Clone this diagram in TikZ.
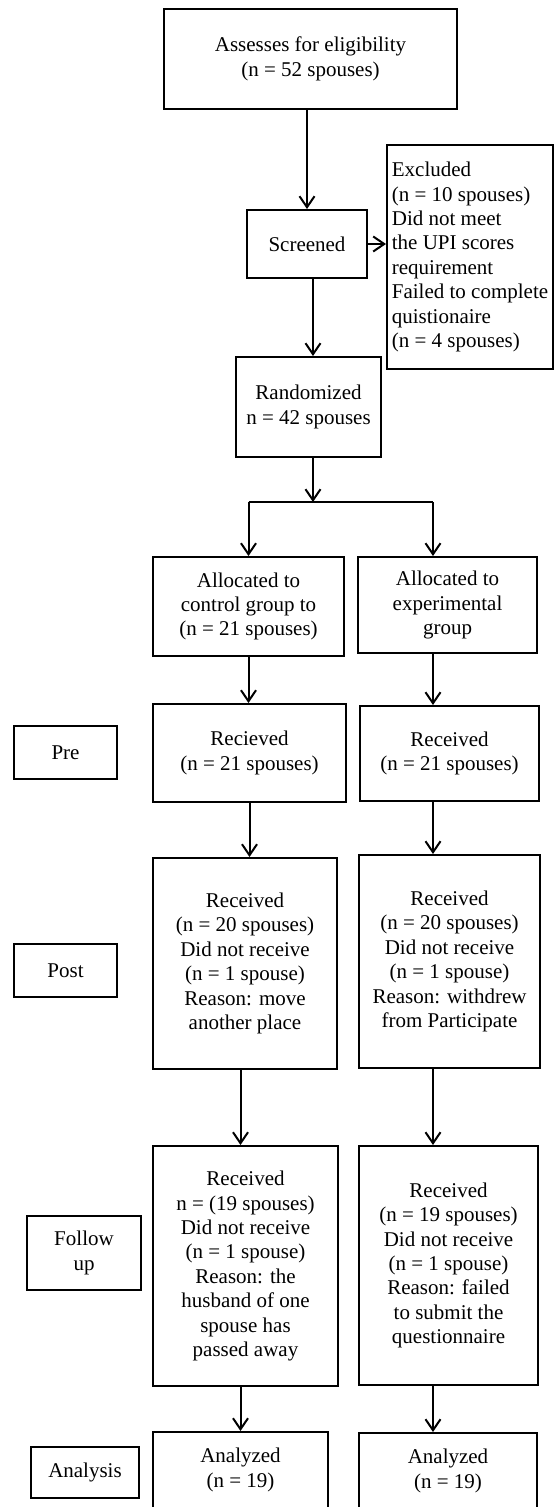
\documentclass[tikz,border=0pt]{standalone}
\usepackage{fontspec}
\setmainfont{Liberation Serif}
\usetikzlibrary{arrows.meta}

\begin{document}
\begin{tikzpicture}[x=1pt,y=-1pt,
		box/.style={draw, line width=2pt, inner sep=0pt, align=center,
			font=\fontsize{21}{24.4}\selectfont},
		arr/.style={line width=2pt,
			-{Straight Barb[length=11pt,width=15pt,line width=2pt]}}]
	\useasboundingbox (0,0) rectangle (554,1507);

	% main column
	\node[box, minimum width=293pt, minimum height=100pt] (assess) at (310.5,59) {Assesses for eligibility\\(n = 52 spouses)};
	\node[box, minimum width=120pt, minimum height=68pt] (screen) at (307,244) {Screened};
	\node[box, align=left, minimum width=166pt, minimum height=224pt] (excl) at (470,257) {Excluded\\(n = 10 spouses)\\Did not meet\\the UPI scores\\requirement\\Failed to complete\\quistionaire\\(n = 4 spouses)};
	\node[box, minimum width=145pt, minimum height=100pt] (random) at (308.5,407) {Randomized\\n = 42 spouses};

	% column helpers
	\coordinate (mcol) at (313,0);
	\coordinate (ecol) at (433,0);
	\coordinate (split) at (313,502);

	% allocation
	\node[box, minimum width=191pt, minimum height=99pt] (ctrlA) at (248.5,606.5) {Allocated to\\control group to\\(n = 21 spouses)};
	\node[box, minimum width=179pt, minimum height=96pt] (expA) at (447.5,605) {Allocated to\\experimental\\group};

	% pre
	\node[box, minimum width=103pt, minimum height=53pt] (pre) at (65.5,752.5) {Pre};
	\node[box, minimum width=193pt, minimum height=98pt] (ctrlR) at (249.5,753) {Recieved\\(n = 21 spouses)};
	\node[box, minimum width=179pt, minimum height=95pt] (expR) at (449.5,753.5) {Received\\(n = 21 spouses)};

	% post
	\node[box, minimum width=103pt, minimum height=53pt] (post) at (65.5,970.5) {Post};
	\node[box, minimum width=184pt, minimum height=211pt] (ctrlP) at (245,963.5) {Received\\(n = 20 spouses)\\Did not receive\\(n = 1 spouse)\\Reason: move\\another place};
	\node[box, minimum width=181pt, minimum height=213pt] (expP) at (449.5,961.5) {Received\\(n = 20 spouses)\\Did not receive\\(n = 1 spouse)\\Reason: withdrew\\from Participate};

	% follow up
	\node[box, minimum width=114pt, minimum height=74pt] (follow) at (84,1253) {Follow\\up};
	\node[box, minimum width=185pt, minimum height=240pt] (ctrlF) at (245.5,1266) {Received\\n = (19 spouses)\\Did not receive\\(n = 1 spouse)\\Reason: the\\husband of one\\spouse has\\passed away};
	\node[box, minimum width=179pt, minimum height=239pt] (expF) at (448.5,1265.5) {Received\\(n = 19 spouses)\\Did not receive\\(n = 1 spouse)\\Reason: failed\\to submit the\\questionnaire};

	% analysis
	\node[box, minimum width=108pt, minimum height=51pt] (analysis) at (85,1472.5) {Analysis};
	\node[box, minimum width=175pt, minimum height=76pt] (ctrlZ) at (240.5,1470) {Analyzed\\(n = 19)};
	\node[box, minimum width=178pt, minimum height=76pt] (expZ) at (448,1471) {Analyzed\\(n = 19)};

	% arrows, main column
	\draw[arr] (assess.south -| screen) -- (screen.north);
	\draw[arr] (screen.east) -- (screen.east -| excl.west);
	\draw[arr] (screen.south -| mcol) -- (random.north -| mcol);
	\draw[arr] (random.south -| mcol) -- (split);
	\draw[line width=2pt] (split -| ctrlA) -- (split -| ecol);
	\draw[arr] (split -| ctrlA) -- (ctrlA.north);
	\draw[arr] (split -| ecol) -- (expA.north -| ecol);

	% arrows, control group
	\draw[arr] (ctrlA.south) -- (ctrlA.south |- ctrlR.north);
	\draw[arr] (ctrlR.south) -- (ctrlR.south |- ctrlP.north);
	\draw[arr] (ctrlP.south -| ctrlZ) -- (ctrlF.north -| ctrlZ);
	\draw[arr] (ctrlF.south -| ctrlZ) -- (ctrlZ.north);

	% arrows, experimental group
	\draw[arr] (expA.south -| ecol) -- (expR.north -| ecol);
	\draw[arr] (expR.south -| ecol) -- (expP.north -| ecol);
	\draw[arr] (expP.south -| ecol) -- (expF.north -| ecol);
	\draw[arr] (expF.south -| ecol) -- (expZ.north -| ecol);
\end{tikzpicture}
\end{document}
